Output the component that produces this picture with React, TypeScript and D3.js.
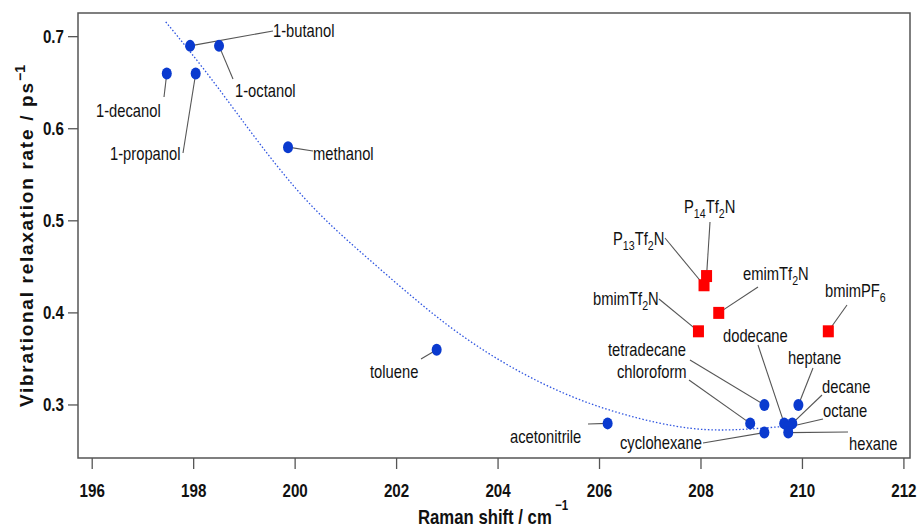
import React from "react";
import * as d3 from "d3";

// ---- data ----
const blueNames = ["1-decanol", "1-propanol", "1-butanol", "1-octanol", "methanol", "toluene", "acetonitrile", "chloroform", "tetradecane", "cyclohexane", "heptane", "dodecane", "decane", "octane", "hexane"];
const blueX = [197.47, 198.04, 197.93, 198.5, 199.86, 202.79, 206.16, 208.97, 209.25, 209.25, 209.92, 209.64, 209.8, 209.72, 209.72];
const blueY = [0.66, 0.66, 0.69, 0.69, 0.58, 0.36, 0.28, 0.28, 0.3, 0.27, 0.3, 0.28, 0.28, 0.276, 0.27];

const redNames = ["P14Tf2N", "P13Tf2N", "emimTf2N", "bmimTf2N", "bmimPF6"];
const redX = [208.11, 208.06, 208.35, 207.95, 210.51];
const redY = [0.44, 0.43, 0.4, 0.38, 0.38];

const fitX = [197.45, 198.5, 200, 201.5, 203, 204.5, 206, 207.5, 208.6, 209.7];
const fitY = [0.716, 0.643, 0.536, 0.456, 0.387, 0.334, 0.298, 0.277, 0.273, 0.277];

const xTicks = [196, 198, 200, 202, 204, 206, 208, 210, 212];
const yTicks = [0.3, 0.4, 0.5, 0.6, 0.7];

// ---- label layout (pixel positions of label text and leader-line ends) ----
type Lab = { tx: number; ty: number; lx: number; ly: number };
const labelLayout: Record<string, Lab> = {
  "1-butanol": { tx: 273, ty: 37, lx: 273, ly: 31 },
  "1-octanol": { tx: 235, ty: 97, lx: 233, ly: 79 },
  "1-decanol": { tx: 96, ty: 117, lx: 164, ly: 97 },
  "1-propanol": { tx: 110, ty: 160, lx: 183, ly: 153 },
  methanol: { tx: 313, ty: 160, lx: 313, ly: 151 },
  toluene: { tx: 370, ty: 378, lx: 421, ly: 359 },
  acetonitrile: { tx: 510, ty: 443, lx: 588, ly: 424 },
  cyclohexane: { tx: 620, ty: 449, lx: 703, ly: 443 },
  chloroform: { tx: 617, ty: 378, lx: 689, ly: 380 },
  tetradecane: { tx: 608, ty: 356, lx: 690, ly: 360 },
  dodecane: { tx: 723, ty: 342, lx: 758, ly: 345 },
  heptane: { tx: 788, ty: 364, lx: 813, ly: 368 },
  decane: { tx: 822, ty: 393, lx: 822, ly: 395 },
  octane: { tx: 823, ty: 417, lx: 823, ly: 419 },
  hexane: { tx: 849, ty: 450, lx: 848, ly: 432 },
  P14Tf2N: { tx: 684, ty: 213, lx: 710, ly: 222 },
  P13Tf2N: { tx: 613, ty: 245, lx: 665, ly: 238 },
  emimTf2N: { tx: 743, ty: 280, lx: 758, ly: 287 },
  bmimTf2N: { tx: 593, ty: 305, lx: 659, ly: 299 },
  bmimPF6: { tx: 825, ty: 297, lx: 847, ly: 305 },
};

const W = 918;
const H = 527;
const M = { left: 78, right: 910, top: 13, bottom: 458 };

const SANS = "'Liberation Sans', Arial, sans-serif";
const NX = 0.82; // horizontal squeeze to imitate a narrow face

function NText({ x, y, anchor = "start", size, bold = false, children }: { x: number; y: number; anchor?: string; size: number; bold?: boolean; children: React.ReactNode }) {
  return (
    <g transform={`translate(${x},${y}) scale(${NX},1)`}>
      <text x={0} y={0} textAnchor={anchor} fontFamily={SANS} fontSize={size} fontWeight={bold ? "bold" : "normal"} fill="#111">
        {children}
      </text>
    </g>
  );
}

function LabelContent({ name }: { name: string }) {
  const sub = 13;
  if (name === "P14Tf2N" || name === "P13Tf2N") {
    return (
      <>
        P<tspan fontSize={sub} dy={5}>{name.slice(1, 3)}</tspan>
        <tspan dy={-5}>Tf</tspan>
        <tspan fontSize={sub} dy={5}>2</tspan>
        <tspan dy={-5}>N</tspan>
      </>
    );
  }
  if (name.endsWith("Tf2N")) {
    return (
      <>
        {name.replace("Tf2N", "Tf")}
        <tspan fontSize={sub} dy={5}>2</tspan>
        <tspan dy={-5}>N</tspan>
      </>
    );
  }
  if (name === "bmimPF6") {
    return (
      <>
        bmimPF<tspan fontSize={sub} dy={5}>6</tspan>
      </>
    );
  }
  return <>{name}</>;
}

export default function App() {
  const x = d3.scaleLinear().domain([195.72, 212.12]).range([M.left, M.right]);
  const y = d3.scaleLinear().domain([0.2424, 0.7257]).range([M.bottom, M.top]);

  const fitPts: [number, number][] = fitX.map((v, i) => [x(v), y(fitY[i])]);
  const fitPath = d3.line().curve(d3.curveNatural)(fitPts) || "";

  const blue = blueNames.map((n, i) => ({ n, px: x(blueX[i]), py: y(blueY[i]) }));
  const red = redNames.map((n, i) => ({ n, px: x(redX[i]), py: y(redY[i]) }));
  const all = [...blue, ...red];

  return (
    <svg width={W} height={H} style={{ position: "absolute", left: 0, top: 0, background: "#fff" }}>
      <rect x={0} y={0} width={W} height={H} fill="#fff" />
      {/* frame */}
      <rect x={M.left} y={M.top} width={M.right - M.left} height={M.bottom - M.top} fill="none" stroke="#555" strokeWidth={1.5} />
      {/* x ticks */}
      {xTicks.map((t) => (
        <g key={"xt" + t}>
          <line x1={x(t)} x2={x(t)} y1={M.bottom} y2={M.bottom + 11} stroke="#555" strokeWidth={1.3} />
          <NText x={x(t)} y={497} anchor="middle" size={18.5} bold>
            {t}
          </NText>
        </g>
      ))}
      {/* y ticks */}
      {yTicks.map((t) => (
        <g key={"yt" + t}>
          <line x1={M.left - 10} x2={M.left} y1={y(t)} y2={y(t)} stroke="#555" strokeWidth={1.3} />
          <NText x={64} y={y(t) + 6.5} anchor="end" size={18.5} bold>
            {d3.format(".1f")(t)}
          </NText>
        </g>
      ))}
      {/* axis titles */}
      <NText x={418} y={524} size={20.4} bold>
        Raman shift / cm
      </NText>
      <NText x={555} y={510} size={14} bold>
        −1
      </NText>
      <text transform="rotate(-90)" x={-407} y={33} fontFamily={SANS} fontWeight="bold" fontSize={19} fill="#111" textLength={324} lengthAdjust="spacing">
        Vibrational relaxation rate / ps
      </text>
      <text transform="rotate(-90)" x={-81} y={25} fontFamily={SANS} fontWeight="bold" fontSize={14} fill="#111">
        −1
      </text>
      {/* fit curve */}
      <path d={fitPath} fill="none" stroke="#2f55e0" strokeWidth={1.3} strokeDasharray="1.5,2" />
      {/* leader lines */}
      {all.map((p) => {
        const L = labelLayout[p.n];
        return <line key={"ll" + p.n} x1={p.px} y1={p.py} x2={L.lx} y2={L.ly} stroke="#555" strokeWidth={1.1} />;
      })}
      {/* points */}
      {blue.map((p) => (
        <ellipse key={"b" + p.n} cx={p.px} cy={p.py} rx={5} ry={6} fill="#0a3acf" />
      ))}
      {red.map((p) => (
        <rect key={"r" + p.n} x={p.px - 5.5} y={p.py - 6} width={11} height={12} fill="#ff0000" />
      ))}
      {/* labels */}
      {all.map((p) => {
        const L = labelLayout[p.n];
        return (
          <NText key={"lb" + p.n} x={L.tx} y={L.ty} size={18}>
            <LabelContent name={p.n} />
          </NText>
        );
      })}
    </svg>
  );
}
